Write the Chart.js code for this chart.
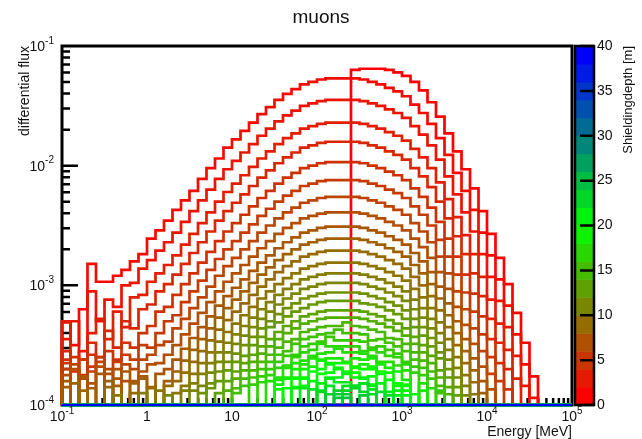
<!DOCTYPE html>
<html>
<head>
<meta charset="utf-8">
<script src="https://cdn.jsdelivr.net/npm/chart.js@4.4.1/dist/chart.umd.min.js"></script>
<style>
  html, body { margin: 0; padding: 0; background: #fff; }
  canvas { display: block; }
</style>
</head>
<body>
<canvas id="muons" width="642" height="439"></canvas>
<script>
const _ = null; // empty bin

// energy binning: 10 log bins per decade from 0.1 MeV
const eMin = 0.1;
const binsPerDecade = 10;
const nBins = 60;

const xTicks = [0.1, 1, 10, 100, 1000, 1e4, 1e5];
const xTickText = [['10', '-1'], ['1', ''], ['10', ''], ['10', '2'], ['10', '3'], ['10', '4'], ['10', '5']];
const yTicks = [1e-1, 1e-2, 1e-3, 1e-4];
const yTickText = [['10', '-1'], ['10', '-2'], ['10', '-3'], ['10', '-4']];
const depthTicks = [0, 5, 10, 15, 20, 25, 30, 35, 40];

// shielding depth [m] of each histogram below
const depths = [0, 0.75, 1.5, 2.25, 3, 3.75, 4.5, 5.25, 6, 6.75, 7.5, 8.25, 9, 9.75,
  10.5, 11.25, 12, 12.75, 13.5, 14.25, 15, 15.75, 16.5, 17.25, 18, 18.75, 19.5,
  20.25, 21, 21.75, 22.5, 23.25, 24, 24.75, 40];

// log10(differential flux) per energy bin, one array per depth
const hist00 = [
  _,_,_,_,_,_,_,_,_,_,
  _,_,_,_,_,_,_,_,_,_,
  _,_,_,_,_,_,_,_,_,_,
  _,_,_,_,-1.20,-1.19,-1.19,-1.19,-1.20,-1.22,
  -1.25,-1.30,-1.37,-1.47,-1.59,-1.73,-1.88,-2.03,-2.19,-2.38,
  -2.57,-2.77,-2.99,-3.23,-3.48,-3.76];
const hist01 = [
  -3.31,-3.50,-3.20,-2.82,-2.97,-2.97,-2.92,-2.87,-2.80,-2.74,
  -2.61,-2.54,-2.46,-2.37,-2.29,-2.21,-2.11,-2.02,-1.94,-1.85,
  -1.78,-1.71,-1.64,-1.57,-1.51,-1.45,-1.40,-1.36,-1.32,-1.30,
  -1.28,-1.27,-1.27,-1.27,-1.27,-1.28,-1.30,-1.32,-1.35,-1.38,
  -1.42,-1.49,-1.56,-1.65,-1.77,-1.91,-2.06,-2.21,-2.37,-2.56,
  -2.75,-2.95,-3.17,-3.41,-3.66,-3.94];
const hist02 = [
  -3.45,-3.30,-3.62,-3.05,-3.30,-3.12,-3.18,-3.00,-2.98,-2.86,
  -2.79,-2.71,-2.64,-2.56,-2.47,-2.38,-2.29,-2.20,-2.11,-2.03,
  -1.96,-1.89,-1.82,-1.75,-1.69,-1.63,-1.58,-1.54,-1.50,-1.48,
  -1.46,-1.45,-1.45,-1.45,-1.45,-1.46,-1.48,-1.50,-1.53,-1.56,
  -1.60,-1.67,-1.74,-1.83,-1.95,-2.09,-2.24,-2.39,-2.55,-2.74,
  -2.93,-3.13,-3.35,-3.59,-3.84];
const hist03 = [
  -3.30,_,-3.55,-3.40,-3.28,-3.45,-3.22,-3.35,-3.10,-3.08,
  -2.97,-2.90,-2.83,-2.75,-2.66,-2.57,-2.48,-2.39,-2.30,-2.22,
  -2.15,-2.08,-2.01,-1.94,-1.88,-1.82,-1.77,-1.73,-1.69,-1.67,
  -1.65,-1.64,-1.64,-1.64,-1.64,-1.65,-1.67,-1.69,-1.72,-1.75,
  -1.79,-1.86,-1.93,-2.02,-2.14,-2.28,-2.43,-2.58,-2.74,-2.93,
  -3.12,-3.32,-3.54,-3.78];
const hist04 = [
  -3.55,-3.72,_,-3.48,-3.60,-3.38,-3.52,-3.30,-3.36,-3.20,
  -3.16,-3.05,-2.99,-2.91,-2.82,-2.73,-2.64,-2.55,-2.46,-2.38,
  -2.31,-2.24,-2.17,-2.10,-2.04,-1.98,-1.93,-1.89,-1.85,-1.83,
  -1.81,-1.80,-1.80,-1.80,-1.80,-1.81,-1.83,-1.85,-1.88,-1.91,
  -1.95,-2.02,-2.09,-2.18,-2.30,-2.44,-2.59,-2.74,-2.90,-3.09,
  -3.28,-3.48,-3.70];
const hist05 = [
  -3.62,-3.60,-3.75,-3.58,_,-3.55,-3.62,-3.48,-3.52,-3.40,
  -3.34,-3.22,-3.18,-3.08,-2.99,-2.90,-2.81,-2.72,-2.63,-2.55,
  -2.48,-2.41,-2.34,-2.27,-2.21,-2.15,-2.10,-2.06,-2.02,-2.00,
  -1.98,-1.97,-1.97,-1.97,-1.97,-1.98,-2.00,-2.02,-2.05,-2.08,
  -2.12,-2.19,-2.26,-2.35,-2.47,-2.61,-2.76,-2.91,-3.07,-3.26,
  -3.45,-3.65,-3.87];
const hist06 = [
  -3.65,_,-3.62,-3.68,-3.60,_,-3.64,-3.58,-3.62,-3.50,
  -3.52,-3.40,-3.30,-3.25,-3.14,-3.05,-2.96,-2.87,-2.78,-2.70,
  -2.63,-2.56,-2.49,-2.42,-2.36,-2.30,-2.25,-2.21,-2.17,-2.15,
  -2.13,-2.12,-2.12,-2.12,-2.12,-2.13,-2.15,-2.17,-2.20,-2.23,
  -2.27,-2.34,-2.41,-2.50,-2.62,-2.76,-2.91,-3.06,-3.22,-3.41,
  -3.60,-3.80];
const hist07 = [
  -3.70,-3.66,_,-3.72,-3.64,-3.70,_,-3.66,-3.70,-3.62,
  -3.58,-3.50,-3.47,-3.36,-3.28,-3.19,-3.10,-3.01,-2.92,-2.84,
  -2.77,-2.70,-2.63,-2.56,-2.50,-2.44,-2.39,-2.35,-2.31,-2.29,
  -2.27,-2.26,-2.26,-2.26,-2.26,-2.27,-2.29,-2.31,-2.34,-2.37,
  -2.41,-2.48,-2.55,-2.64,-2.76,-2.90,-3.05,-3.20,-3.36,-3.55,
  -3.74];
const hist08 = [
  -3.75,-3.70,-3.78,_,-3.68,-3.74,-3.70,-3.80,_,-3.72,
  -3.66,-3.65,-3.58,-3.50,-3.41,-3.32,-3.23,-3.14,-3.05,-2.97,
  -2.90,-2.83,-2.76,-2.69,-2.63,-2.57,-2.52,-2.48,-2.44,-2.42,
  -2.40,-2.39,-2.39,-2.39,-2.39,-2.40,-2.42,-2.44,-2.47,-2.50,
  -2.54,-2.61,-2.68,-2.77,-2.89,-3.03,-3.18,-3.33,-3.49,-3.68,
  -3.87];
const hist09 = [
  -3.80,_,-3.76,-3.82,-3.74,_,-3.78,-3.72,-3.80,-3.76,
  _,-3.74,-3.70,-3.62,-3.53,-3.44,-3.35,-3.26,-3.17,-3.09,
  -3.02,-2.95,-2.88,-2.81,-2.75,-2.69,-2.64,-2.60,-2.56,-2.54,
  -2.52,-2.51,-2.51,-2.51,-2.51,-2.52,-2.54,-2.56,-2.59,-2.62,
  -2.66,-2.73,-2.80,-2.89,-3.01,-3.15,-3.30,-3.45,-3.61,-3.80];
const hist10 = [
  -3.85,-3.82,_,-3.86,_,-3.80,-3.84,_,-3.82,-3.78,
  -3.85,_,-3.80,-3.72,-3.63,-3.54,-3.45,-3.36,-3.27,-3.19,
  -3.12,-3.05,-2.98,-2.91,-2.85,-2.79,-2.74,-2.70,-2.66,-2.64,
  -2.62,-2.61,-2.61,-2.61,-2.61,-2.62,-2.64,-2.66,-2.69,-2.72,
  -2.76,-2.83,-2.90,-2.99,-3.11,-3.25,-3.40,-3.55,-3.71,-3.90];
const hist11 = [
  _,_,-3.88,_,_,-3.85,_,_,-3.90,_,
  -3.86,_,-3.84,-3.80,-3.73,-3.64,-3.55,-3.46,-3.37,-3.29,
  -3.22,-3.15,-3.08,-3.01,-2.95,-2.89,-2.84,-2.80,-2.76,-2.74,
  -2.72,-2.71,-2.71,-2.71,-2.71,-2.72,-2.74,-2.76,-2.79,-2.82,
  -2.86,-2.93,-3.00,-3.09,-3.21,-3.35,-3.50,-3.65,-3.81];
const hist12 = [
  _,_,_,_,_,_,-3.92,_,_,_,
  _,-3.88,_,-3.90,-3.84,-3.74,-3.65,-3.56,-3.47,-3.39,
  -3.32,-3.25,-3.18,-3.11,-3.05,-2.99,-2.94,-2.90,-2.86,-2.84,
  -2.82,-2.81,-2.81,-2.81,-2.81,-2.82,-2.84,-2.86,-2.89,-2.92,
  -2.96,-3.03,-3.10,-3.19,-3.31,-3.45,-3.60,-3.75,-3.91];
const hist13 = [
  _,_,_,_,_,_,_,_,_,-3.90,
  _,_,_,_,-3.88,-3.82,-3.74,-3.65,-3.56,-3.48,
  -3.41,-3.34,-3.27,-3.20,-3.14,-3.08,-3.03,-2.99,-2.95,-2.93,
  -2.91,-2.90,-2.90,-2.90,-2.90,-2.91,-2.93,-2.95,-2.98,-3.01,
  -3.05,-3.12,-3.19,-3.28,-3.40,-3.54,-3.69,-3.84];
const hist14 = [
  _,_,_,_,_,_,_,_,_,_,
  _,_,-3.92,_,_,-3.88,-3.84,-3.73,-3.64,-3.56,
  -3.49,-3.42,-3.35,-3.28,-3.22,-3.16,-3.11,-3.07,-3.03,-3.01,
  -2.99,-2.98,-2.98,-2.98,-2.98,-2.99,-3.01,-3.03,-3.06,-3.09,
  -3.13,-3.20,-3.27,-3.36,-3.48,-3.62,-3.77,-3.92];
const hist15 = [
  _,_,_,_,_,_,_,_,_,_,
  _,_,_,_,_,_,-3.90,-3.82,-3.72,-3.64,
  -3.57,-3.50,-3.43,-3.36,-3.30,-3.24,-3.19,-3.15,-3.11,-3.09,
  -3.07,-3.06,-3.06,-3.06,-3.06,-3.07,-3.09,-3.11,-3.14,-3.17,
  -3.21,-3.28,-3.35,-3.44,-3.56,-3.70,-3.85];
const hist16 = [
  _,_,_,_,_,_,_,_,_,_,
  _,_,_,_,_,_,_,-3.86,-3.80,-3.71,
  -3.64,-3.59,-3.50,-3.43,-3.35,-3.31,-3.26,-3.22,-3.19,-3.16,
  -3.14,-3.13,-3.13,-3.13,-3.13,-3.15,-3.16,-3.18,-3.21,-3.24,
  -3.28,-3.35,-3.42,-3.51,-3.61,-3.77,-3.92];
const hist17 = [
  _,_,_,_,_,_,_,_,_,_,
  _,_,_,_,_,_,_,_,-3.90,-3.80,
  -3.72,-3.65,-3.58,-3.51,-3.45,-3.39,-3.34,-3.30,-3.26,-3.24,
  -3.22,-3.21,-3.21,-3.21,-3.21,-3.22,-3.24,-3.26,-3.29,-3.32,
  -3.36,-3.43,-3.50,-3.59,-3.71,-3.85];
const hist18 = [
  _,_,_,_,_,_,_,_,_,_,
  _,_,_,_,_,_,_,_,_,-3.88,
  -3.78,-3.71,-3.64,-3.57,-3.51,-3.45,-3.40,-3.36,-3.32,-3.30,
  -3.28,-3.27,-3.27,-3.27,-3.27,-3.28,-3.30,-3.32,-3.35,-3.38,
  -3.42,-3.49,-3.56,-3.65,-3.77,-3.91];
const hist19 = [
  _,_,_,_,_,_,_,_,_,_,
  _,_,_,_,_,_,_,_,_,_,
  -3.86,-3.78,-3.71,-3.64,-3.58,-3.52,-3.47,-3.45,-3.39,-3.37,
  -3.35,-3.34,-3.34,-3.31,-3.34,-3.35,-3.37,-3.39,-3.44,-3.45,
  -3.49,-3.56,-3.63,-3.72,-3.84];
const hist20 = [
  _,_,_,_,_,_,_,_,_,_,
  _,_,_,_,_,_,_,_,_,_,
  -3.90,-3.84,-3.77,-3.70,-3.64,-3.58,-3.55,-3.49,-3.45,-3.43,
  -3.41,-3.40,-3.37,-3.40,-3.40,-3.41,-3.46,-3.45,-3.48,-3.51,
  -3.55,-3.62,-3.69,-3.78,-3.90];
const hist21 = [
  _,_,_,_,_,_,_,_,_,_,
  _,_,_,_,_,_,_,_,_,_,
  _,_,-3.83,-3.76,-3.70,-3.64,-3.59,-3.58,-3.51,-3.49,
  -3.47,-3.43,-3.46,-3.46,-3.46,-3.47,-3.52,-3.51,-3.54,-3.57,
  -3.64,-3.68,-3.75,_,-3.88];
const hist22 = [
  _,_,_,_,_,_,_,_,_,_,
  _,_,_,_,_,_,_,_,_,_,
  _,_,_,-3.81,-3.75,-3.69,-3.67,-3.60,-3.56,-3.54,
  -3.49,-3.51,-3.51,-3.51,-3.51,-3.55,-3.54,-3.56,-3.59,-3.60,
  -3.66,-3.73,_,-3.86];
const hist23 = [
  _,_,_,_,_,_,_,_,_,_,
  _,_,_,_,_,_,_,_,_,_,
  _,_,_,_,-3.80,-3.77,-3.69,-3.65,-3.63,-3.59,
  -3.57,-3.56,-3.53,-3.56,-3.56,-3.57,-3.59,-3.64,-3.64,-3.67,
  -3.71,_,-3.82];
const hist24 = [
  _,_,_,_,_,_,_,_,_,_,
  _,_,_,_,_,_,_,_,_,_,
  _,_,_,_,_,-3.79,-3.77,-3.70,-3.66,-3.61,
  -3.62,-3.61,-3.61,-3.64,-3.61,-3.62,-3.61,-3.66,-3.69,-3.72,
  -3.79,_,-3.88];
const hist25 = [
  _,_,_,_,_,_,_,_,_,_,
  _,_,_,_,_,_,_,_,_,_,
  _,_,_,_,_,-3.83,-3.78,-3.77,-3.70,-3.68,
  -3.63,-3.65,-3.65,-3.65,-3.68,-3.66,-3.68,-3.72,-3.73,_,
  -3.83];
const hist26 = [
  _,_,_,_,_,_,_,_,_,_,
  _,_,_,_,_,_,_,_,_,_,
  _,_,_,_,_,-3.87,_,-3.78,-3.77,-3.72,
  -3.70,-3.66,-3.69,-3.72,-3.69,-3.70,-3.70,-3.74,_,-3.82,
  -3.84,-3.91];
const hist27 = [
  _,_,_,_,_,_,_,_,_,_,
  _,_,_,_,_,_,_,_,_,_,
  _,_,_,_,_,_,-3.86,-3.85,-3.78,_,
  -3.74,-3.73,-3.70,-3.73,-3.73,-3.77,-3.76,_,-3.79,-3.84,
  -3.88];
const hist28 = [
  _,_,_,_,_,_,_,_,_,_,
  _,_,_,_,_,_,_,_,_,_,
  _,_,_,_,_,_,_,-3.86,-3.84,-3.80,
  _,-3.77,-3.77,-3.74,-3.77,-3.78,-3.83,-3.82,_,-3.88,
  -3.92];
const hist29 = [
  _,_,_,_,_,_,_,_,_,_,
  _,_,_,_,_,_,_,_,_,_,
  _,_,_,_,_,_,_,_,-3.86,_,
  -3.82,-3.78,-3.81,-3.81,-3.84,-3.82,-3.84,_,-3.89,-3.92];
const hist30 = [
  _,_,_,_,_,_,_,_,_,_,
  _,_,_,_,_,_,_,_,_,_,
  _,_,_,_,_,_,_,_,_,-3.87,
  -3.88,-3.84,_,-3.84,-3.84,-3.82,-3.87,-3.89,-3.92];
const hist31 = [
  _,_,_,_,_,_,_,_,_,_,
  _,_,_,_,_,_,_,_,_,_,
  _,_,_,_,_,_,_,_,_,_,
  -3.89,_,-3.88,-3.88,-3.86,-3.89,-3.91];
const hist32 = [
  _,_,_,_,_,_,_,_,_,_,
  _,_,_,_,_,_,_,_,_,_,
  _,_,_,_,_,_,_,_,_,_,
  _,-3.91,-3.91,-3.91,_,-3.92];
const hist33 = [
  _,_,_,_,_,_,_,_,_,_,
  _,_,_,_,_,_,_,_,_,_,
  _,_,_,_,_,_,_,_,_,_,
  _,_,-3.94,-3.94];
const hist34 = [];

const fluxLog = [hist00, hist01, hist02, hist03, hist04, hist05, hist06, hist07,
  hist08, hist09, hist10, hist11, hist12, hist13, hist14, hist15, hist16,
  hist17, hist18, hist19, hist20, hist21, hist22, hist23, hist24, hist25,
  hist26, hist27, hist28, hist29, hist30, hist31, hist32, hist33, hist34];

const FONT = '"Liberation Sans", Arial, sans-serif';
const yFloor = 1e-4;

// red -> green -> blue palette over 0..40 m, colour bar in 20 bands
const paletteStops = [[255, 0, 0], [128, 128, 0], [0, 255, 0], [0, 128, 128], [0, 0, 255]];
const nBands = 20;
function paletteColor(d) {
  const t = Math.min(Math.max(d / 10, 0), 3.9999);
  const i = Math.floor(t), f = t - i;
  const a = paletteStops[i], b = paletteStops[i + 1];
  const c = a.map((v, k) => Math.round(v + (b[k] - v) * f));
  return `rgb(${c[0]},${c[1]},${c[2]})`;
}
function bandColor(band) {
  return paletteColor(band * 40 / (nBands - 1));
}

const edges = Array.from({ length: nBins + 1 }, (v, i) => eMin * 10 ** (i / binsPerDecade));

// step outline of one histogram, empty bins lie on the lower frame edge
function histPoints(logs) {
  const pts = [{ x: edges[0], y: yFloor }];
  for (let i = 0; i < nBins; i++) {
    const v = logs[i];
    pts.push({ x: edges[i], y: v == null ? yFloor : 10 ** v });
  }
  pts.push({ x: edges[nBins], y: yFloor });
  return pts;
}

const datasets = depths.map((d, k) => ({
  label: d + ' m',
  data: histPoints(fluxLog[k]),
  borderColor: paletteColor(d),
  borderWidth: 2.7,
  stepped: 'before',
  pointRadius: 0,
  fill: false,
  order: -d,
  clip: 3,
  borderJoinStyle: 'miter',
  borderCapStyle: 'butt'
}));

function drawPower(ctx, base, exp, x, y, align) {
  ctx.font = '14px ' + FONT;
  const wb = ctx.measureText(base).width;
  ctx.font = '10px ' + FONT;
  const we = exp ? ctx.measureText(exp).width : 0;
  const w = wb + we;
  const x0 = align === 'center' ? x - w / 2 : align === 'right' ? x - w : x;
  ctx.textAlign = 'left';
  ctx.textBaseline = 'middle';
  ctx.font = '14px ' + FONT;
  ctx.fillText(base, x0, y);
  if (exp) {
    ctx.font = '10px ' + FONT;
    ctx.fillText(exp, x0 + wb, y - 6);
  }
}

const rootFrame = {
  id: 'rootFrame',
  beforeDatasetsDraw(chart) {
    const { ctx, chartArea: a, scales } = chart;
    const sx = scales.x, sy = scales.y;
    ctx.save();
    ctx.strokeStyle = '#000';
    ctx.lineWidth = 2.5;
    ctx.beginPath();
    // y axis ticks, inside the frame
    for (let e = -4; e < -1; e++) {
      for (let m = 1; m <= 9; m++) {
        const py = sy.getPixelForValue(m * 10 ** e);
        const len = m === 1 ? 16 : 8;
        ctx.moveTo(a.left, py);
        ctx.lineTo(a.left + len, py);
      }
    }
    // x axis ticks, short ones sitting on the lower edge
    for (let e = -1; e < 5; e++) {
      for (let m = 1; m <= 9; m++) {
        const px = sx.getPixelForValue(m * 10 ** e);
        ctx.moveTo(px, a.bottom);
        ctx.lineTo(px, a.bottom - 7);
      }
    }
    ctx.stroke();
    ctx.lineWidth = 3;
    ctx.strokeRect(a.left, a.top, a.right - a.left, a.bottom - a.top);
    ctx.restore();
  },
  afterDraw(chart) {
    const { ctx, chartArea: a, scales } = chart;
    const sx = scales.x, sy = scales.y, sd = scales.depth;
    ctx.save();
    ctx.fillStyle = '#111';

    // title
    ctx.font = '19px ' + FONT;
    ctx.textAlign = 'center';
    ctx.textBaseline = 'middle';
    ctx.fillText('muons', 321, 18);

    // tick labels
    xTicks.forEach((v, i) => {
      drawPower(ctx, xTickText[i][0], xTickText[i][1], sx.getPixelForValue(v), a.bottom + 12, 'center');
    });
    yTicks.forEach((v, i) => {
      drawPower(ctx, yTickText[i][0], yTickText[i][1], 54, sy.getPixelForValue(v) + 1, 'right');
    });

    // axis titles
    ctx.font = '14px ' + FONT;
    ctx.textAlign = 'right';
    ctx.textBaseline = 'middle';
    ctx.fillText('Energy [MeV]', a.right, 432);
    ctx.save();
    ctx.translate(25, a.top);
    ctx.rotate(-Math.PI / 2);
    ctx.fillText('differential flux', 0, 0);
    ctx.restore();

    // colour bar for the shielding depth
    const bx0 = a.right + 3, bx1 = a.right + 22;
    for (let b = 0; b < nBands; b++) {
      const y0 = sd.getPixelForValue(b * 40 / nBands);
      const y1 = sd.getPixelForValue((b + 1) * 40 / nBands);
      ctx.fillStyle = bandColor(b);
      ctx.fillRect(bx0, y1, bx1 - bx0, y0 - y1 + 0.5);
    }
    ctx.strokeStyle = '#000';
    ctx.lineWidth = 2.5;
    ctx.strokeRect(bx0, a.top, bx1 - bx0, a.bottom - a.top);
    ctx.beginPath();
    depthTicks.forEach(v => {
      const py = sd.getPixelForValue(v);
      ctx.moveTo(bx1, py);
      ctx.lineTo(bx1 - 14, py);
    });
    ctx.stroke();
    ctx.fillStyle = '#111';
    ctx.font = '14px ' + FONT;
    ctx.textAlign = 'left';
    ctx.textBaseline = 'middle';
    depthTicks.forEach(v => {
      ctx.fillText(String(v), bx1 + 3, sd.getPixelForValue(v));
    });
    ctx.font = '13px ' + FONT;
    ctx.textAlign = 'right';
    ctx.save();
    ctx.translate(628, a.top);
    ctx.rotate(-Math.PI / 2);
    ctx.fillText('Shieldingdepth [m]', 0, 0);
    ctx.restore();

    ctx.restore();
  }
};

new Chart(document.getElementById('muons'), {
  type: 'line',
  data: { datasets },
  options: {
    responsive: false,
    animation: false,
    devicePixelRatio: 1,
    layout: { padding: { left: 62, right: 70, top: 46, bottom: 34 } },
    plugins: { legend: { display: false }, tooltip: { enabled: false } },
    scales: {
      x: { type: 'logarithmic', min: 0.1, max: 1e5, display: false },
      y: { type: 'logarithmic', min: 1e-4, max: 1e-1, display: false },
      depth: { type: 'linear', position: 'right', min: 0, max: 40, display: false }
    }
  },
  plugins: [rootFrame]
});
</script>
</body>
</html>
